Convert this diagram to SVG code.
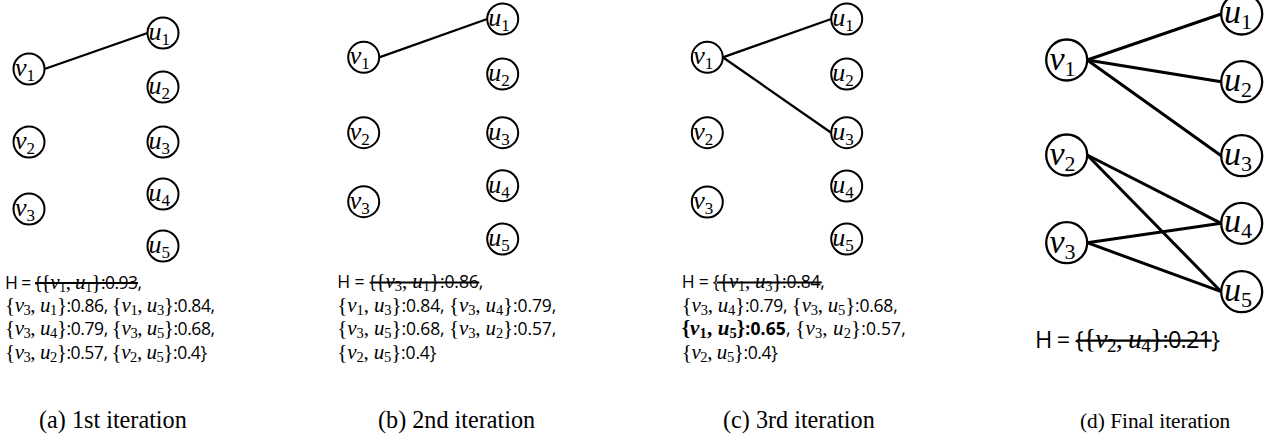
<svg xmlns="http://www.w3.org/2000/svg" width="1271" height="440" viewBox="0 0 1271 440">
<style>
.n{fill:#fff;stroke:#000;stroke-width:2}
.nd{fill:#fff;stroke:#000;stroke-width:2.3}
.e{stroke:#000;stroke-width:2.3;fill:none}
.ed{stroke:#000;stroke-width:3;fill:none}
.lb{font-family:"Liberation Serif",serif;font-style:italic;font-size:26px;fill:#000}
.lbd{font-family:"Liberation Serif",serif;font-style:italic;font-size:34px;fill:#000}
.sb{font-style:normal;font-size:17px}
.sbd{font-style:normal;font-size:22px}
.h{font-family:"Open Sans",sans-serif;font-size:17.5px;fill:#000}
.hd{font-family:"Open Sans",sans-serif;font-size:23.5px;fill:#000}
.m{font-family:"Liberation Serif",serif;font-size:21px}
.md{font-family:"Liberation Serif",serif;font-size:28px}
.i{font-style:italic}
.s{font-size:14.5px}
.sd{font-size:19px}
.b{font-weight:bold}
.st{stroke:#000;stroke-width:1.8}
.cap{font-family:"Liberation Serif",serif;font-size:24.2px;fill:#000}
</style>

<g id="connectors">
<line class="e" x1="44.5" y1="69" x2="147.5" y2="33"/>
<line class="e" x1="379.2" y1="57.3" x2="487.2" y2="19"/>
<line class="e" x1="722.8" y1="57.3" x2="831.2" y2="19"/>
<line class="e" x1="722.8" y1="57.3" x2="831.2" y2="132.7"/>
<line class="ed" x1="1087.2" y1="60" x2="1221.2" y2="14"/>
<line class="ed" x1="1087.2" y1="60" x2="1221.2" y2="81.7"/>
<line class="ed" x1="1087.2" y1="60" x2="1221.2" y2="155.7"/>
<line class="ed" x1="1087.2" y1="155" x2="1221.2" y2="223.3"/>
<line class="ed" x1="1087.2" y1="155" x2="1221.2" y2="291.7"/>
<line class="ed" x1="1087.2" y1="242.7" x2="1221.2" y2="223.3"/>
<line class="ed" x1="1087.2" y1="242.7" x2="1221.2" y2="291.7"/>
</g>

<!-- Panel a -->
<g id="a-v1"><circle class="n" cx="29" cy="69" r="15.5"/><text class="lb" x="15" y="76">v<tspan class="sb" dy="5">1</tspan></text></g>
<g id="a-v2"><circle class="n" cx="29" cy="142" r="15.5"/><text class="lb" x="15" y="149">v<tspan class="sb" dy="5">2</tspan></text></g>
<g id="a-v3"><circle class="n" cx="29" cy="209" r="15.5"/><text class="lb" x="15" y="216">v<tspan class="sb" dy="5">3</tspan></text></g>
<g id="a-u1"><circle class="n" cx="163" cy="33" r="15.5"/><text class="lb" x="148.5" y="40">u<tspan class="sb" dy="5">1</tspan></text></g>
<g id="a-u2"><circle class="n" cx="163" cy="87" r="15.5"/><text class="lb" x="148.5" y="94">u<tspan class="sb" dy="5">2</tspan></text></g>
<g id="a-u3"><circle class="n" cx="163" cy="142" r="15.5"/><text class="lb" x="148.5" y="149">u<tspan class="sb" dy="5">3</tspan></text></g>
<g id="a-u4"><circle class="n" cx="163" cy="194" r="15.5"/><text class="lb" x="148.5" y="201">u<tspan class="sb" dy="5">4</tspan></text></g>
<g id="a-u5"><circle class="n" cx="163" cy="246" r="15.5"/><text class="lb" x="148.5" y="253">u<tspan class="sb" dy="5">5</tspan></text></g>

<!-- Panel b -->
<g id="b-v1"><circle class="n" cx="363.7" cy="57.3" r="15.5"/><text class="lb" x="349.7" y="64.3">v<tspan class="sb" dy="5">1</tspan></text></g>
<g id="b-v2"><circle class="n" cx="363.7" cy="132.7" r="15.5"/><text class="lb" x="349.7" y="139.7">v<tspan class="sb" dy="5">2</tspan></text></g>
<g id="b-v3"><circle class="n" cx="363.7" cy="201.7" r="15.5"/><text class="lb" x="349.7" y="208.7">v<tspan class="sb" dy="5">3</tspan></text></g>
<g id="b-u1"><circle class="n" cx="502.7" cy="19" r="15.5"/><text class="lb" x="488.2" y="26">u<tspan class="sb" dy="5">1</tspan></text></g>
<g id="b-u2"><circle class="n" cx="502.7" cy="74" r="15.5"/><text class="lb" x="488.2" y="81">u<tspan class="sb" dy="5">2</tspan></text></g>
<g id="b-u3"><circle class="n" cx="502.7" cy="132.7" r="15.5"/><text class="lb" x="488.2" y="139.7">u<tspan class="sb" dy="5">3</tspan></text></g>
<g id="b-u4"><circle class="n" cx="502.7" cy="185.7" r="15.5"/><text class="lb" x="488.2" y="192.7">u<tspan class="sb" dy="5">4</tspan></text></g>
<g id="b-u5"><circle class="n" cx="502.7" cy="239" r="15.5"/><text class="lb" x="488.2" y="246">u<tspan class="sb" dy="5">5</tspan></text></g>

<!-- Panel c -->
<g id="c-v1"><circle class="n" cx="707.3" cy="57.3" r="15.5"/><text class="lb" x="693.3" y="64.3">v<tspan class="sb" dy="5">1</tspan></text></g>
<g id="c-v2"><circle class="n" cx="707.3" cy="132.7" r="15.5"/><text class="lb" x="693.3" y="139.7">v<tspan class="sb" dy="5">2</tspan></text></g>
<g id="c-v3"><circle class="n" cx="707.3" cy="202" r="15.5"/><text class="lb" x="693.3" y="209">v<tspan class="sb" dy="5">3</tspan></text></g>
<g id="c-u1"><circle class="n" cx="846.7" cy="19" r="15.5"/><text class="lb" x="832.2" y="26">u<tspan class="sb" dy="5">1</tspan></text></g>
<g id="c-u2"><circle class="n" cx="846.7" cy="74" r="15.5"/><text class="lb" x="832.2" y="81">u<tspan class="sb" dy="5">2</tspan></text></g>
<g id="c-u3"><circle class="n" cx="846.7" cy="132.7" r="15.5"/><text class="lb" x="832.2" y="139.7">u<tspan class="sb" dy="5">3</tspan></text></g>
<g id="c-u4"><circle class="n" cx="846.7" cy="186" r="15.5"/><text class="lb" x="832.2" y="193">u<tspan class="sb" dy="5">4</tspan></text></g>
<g id="c-u5"><circle class="n" cx="846.7" cy="239" r="15.5"/><text class="lb" x="832.2" y="246">u<tspan class="sb" dy="5">5</tspan></text></g>

<!-- Panel d -->
<g id="d-v1"><circle class="nd" cx="1066.7" cy="60" r="20.5"/><text class="lbd" x="1049.5" y="70">v<tspan class="sbd" dy="6">1</tspan></text></g>
<g id="d-v2"><circle class="nd" cx="1066.7" cy="155" r="20.5"/><text class="lbd" x="1049.5" y="165">v<tspan class="sbd" dy="6">2</tspan></text></g>
<g id="d-v3"><circle class="nd" cx="1066.7" cy="242.7" r="20.5"/><text class="lbd" x="1049.5" y="252.7">v<tspan class="sbd" dy="6">3</tspan></text></g>
<g id="d-u1"><circle class="nd" cx="1241.7" cy="14" r="20.5"/><text class="lbd" x="1224" y="23">u<tspan class="sbd" dy="6">1</tspan></text></g>
<g id="d-u2"><circle class="nd" cx="1241.7" cy="81.7" r="20.5"/><text class="lbd" x="1224" y="90.7">u<tspan class="sbd" dy="6">2</tspan></text></g>
<g id="d-u3"><circle class="nd" cx="1241.7" cy="155.7" r="20.5"/><text class="lbd" x="1224" y="164.7">u<tspan class="sbd" dy="6">3</tspan></text></g>
<g id="d-u4"><circle class="nd" cx="1241.7" cy="223.3" r="20.5"/><text class="lbd" x="1224" y="232.3">u<tspan class="sbd" dy="6">4</tspan></text></g>
<g id="d-u5"><circle class="nd" cx="1241.7" cy="291.7" r="20.5"/><text class="lbd" x="1224" y="300.7">u<tspan class="sbd" dy="6">5</tspan></text></g>

<!-- Heap texts -->
<g id="heap-a">
<text class="h" x="5" y="288.5" textLength="137" lengthAdjust="spacing">H = {<tspan class="m">{<tspan class="i">v</tspan><tspan class="s" dy="3">1</tspan><tspan dy="-3">, </tspan><tspan class="i">u</tspan><tspan class="s" dy="3">1</tspan><tspan dy="-3">}</tspan></tspan>:0.93,</text>
<line class="st" x1="35" y1="283" x2="138" y2="283"/>
<text class="h" x="5" y="312" textLength="210" lengthAdjust="spacing"><tspan class="m">{<tspan class="i">v</tspan><tspan class="s" dy="3">3</tspan><tspan dy="-3">, </tspan><tspan class="i">u</tspan><tspan class="s" dy="3">1</tspan><tspan dy="-3">}</tspan></tspan>:0.86, <tspan class="m">{<tspan class="i">v</tspan><tspan class="s" dy="3">1</tspan><tspan dy="-3">, </tspan><tspan class="i">u</tspan><tspan class="s" dy="3">3</tspan><tspan dy="-3">}</tspan></tspan>:0.84,</text>
<text class="h" x="5" y="335.3" textLength="210" lengthAdjust="spacing"><tspan class="m">{<tspan class="i">v</tspan><tspan class="s" dy="3">3</tspan><tspan dy="-3">, </tspan><tspan class="i">u</tspan><tspan class="s" dy="3">4</tspan><tspan dy="-3">}</tspan></tspan>:0.79, <tspan class="m">{<tspan class="i">v</tspan><tspan class="s" dy="3">3</tspan><tspan dy="-3">, </tspan><tspan class="i">u</tspan><tspan class="s" dy="3">5</tspan><tspan dy="-3">}</tspan></tspan>:0.68,</text>
<text class="h" x="5" y="358.7" textLength="202" lengthAdjust="spacing"><tspan class="m">{<tspan class="i">v</tspan><tspan class="s" dy="3">3</tspan><tspan dy="-3">, </tspan><tspan class="i">u</tspan><tspan class="s" dy="3">2</tspan><tspan dy="-3">}</tspan></tspan>:0.57, <tspan class="m">{<tspan class="i">v</tspan><tspan class="s" dy="3">2</tspan><tspan dy="-3">, </tspan><tspan class="i">u</tspan><tspan class="s" dy="3">5</tspan><tspan dy="-3">}</tspan></tspan>:0.4}</text>
</g>

<g id="heap-b">
<text class="h" x="337.3" y="288" textLength="146" lengthAdjust="spacing">H = {<tspan class="m">{<tspan class="i">v</tspan><tspan class="s" dy="3">3</tspan><tspan dy="-3">, </tspan><tspan class="i">u</tspan><tspan class="s" dy="3">1</tspan><tspan dy="-3">}</tspan></tspan>:0.86,</text>
<line class="st" x1="371.7" y1="282.5" x2="479.3" y2="282.5"/>
<text class="h" x="337.3" y="311.5" textLength="219" lengthAdjust="spacing"><tspan class="m">{<tspan class="i">v</tspan><tspan class="s" dy="3">1</tspan><tspan dy="-3">, </tspan><tspan class="i">u</tspan><tspan class="s" dy="3">3</tspan><tspan dy="-3">}</tspan></tspan>:0.84, <tspan class="m">{<tspan class="i">v</tspan><tspan class="s" dy="3">3</tspan><tspan dy="-3">, </tspan><tspan class="i">u</tspan><tspan class="s" dy="3">4</tspan><tspan dy="-3">}</tspan></tspan>:0.79,</text>
<text class="h" x="337.3" y="335" textLength="219" lengthAdjust="spacing"><tspan class="m">{<tspan class="i">v</tspan><tspan class="s" dy="3">3</tspan><tspan dy="-3">, </tspan><tspan class="i">u</tspan><tspan class="s" dy="3">5</tspan><tspan dy="-3">}</tspan></tspan>:0.68, <tspan class="m">{<tspan class="i">v</tspan><tspan class="s" dy="3">3</tspan><tspan dy="-3">, </tspan><tspan class="i">u</tspan><tspan class="s" dy="3">2</tspan><tspan dy="-3">}</tspan></tspan>:0.57,</text>
<text class="h" x="337.3" y="358.5" textLength="99" lengthAdjust="spacing"><tspan class="m">{<tspan class="i">v</tspan><tspan class="s" dy="3">2</tspan><tspan dy="-3">, </tspan><tspan class="i">u</tspan><tspan class="s" dy="3">5</tspan><tspan dy="-3">}</tspan></tspan>:0.4}</text>
</g>

<g id="heap-c">
<text class="h" x="681.7" y="288" textLength="143" lengthAdjust="spacing">H = {<tspan class="m">{<tspan class="i">v</tspan><tspan class="s" dy="3">1</tspan><tspan dy="-3">, </tspan><tspan class="i">u</tspan><tspan class="s" dy="3">3</tspan><tspan dy="-3">}</tspan></tspan>:0.84,</text>
<line class="st" x1="716.7" y1="282.5" x2="821.7" y2="282.5"/>
<text class="h" x="681.7" y="311.5" textLength="216" lengthAdjust="spacing"><tspan class="m">{<tspan class="i">v</tspan><tspan class="s" dy="3">3</tspan><tspan dy="-3">, </tspan><tspan class="i">u</tspan><tspan class="s" dy="3">4</tspan><tspan dy="-3">}</tspan></tspan>:0.79, <tspan class="m">{<tspan class="i">v</tspan><tspan class="s" dy="3">3</tspan><tspan dy="-3">, </tspan><tspan class="i">u</tspan><tspan class="s" dy="3">5</tspan><tspan dy="-3">}</tspan></tspan>:0.68,</text>
<text class="h" x="681.7" y="335" textLength="224" lengthAdjust="spacing"><tspan class="b"><tspan class="m">{<tspan class="i">v</tspan><tspan class="s" dy="3">1</tspan><tspan dy="-3">, </tspan><tspan class="i">u</tspan><tspan class="s" dy="3">5</tspan><tspan dy="-3">}</tspan></tspan>:0.65</tspan>, <tspan class="m">{<tspan class="i">v</tspan><tspan class="s" dy="3">3</tspan><tspan dy="-3">, </tspan><tspan class="i">u</tspan><tspan class="s" dy="3">2</tspan><tspan dy="-3">}</tspan></tspan>:0.57,</text>
<text class="h" x="681.7" y="358.5" textLength="96" lengthAdjust="spacing"><tspan class="m">{<tspan class="i">v</tspan><tspan class="s" dy="3">2</tspan><tspan dy="-3">, </tspan><tspan class="i">u</tspan><tspan class="s" dy="3">5</tspan><tspan dy="-3">}</tspan></tspan>:0.4}</text>
</g>

<g id="heap-d">
<text class="hd" x="1035" y="348" textLength="185" lengthAdjust="spacing">H = {<tspan class="md">{<tspan class="i">v</tspan><tspan class="sd" dy="4">2</tspan><tspan dy="-4">, </tspan><tspan class="i">u</tspan><tspan class="sd" dy="4">4</tspan><tspan dy="-4">}</tspan></tspan>:0.21}</text>
<line class="st" style="stroke-width:2.3" x1="1076.7" y1="340.7" x2="1211.7" y2="340.7"/>
</g>

<g id="captions">
<text class="cap" x="39" y="428">(a) 1st iteration</text>
<text class="cap" x="378" y="428">(b) 2nd iteration</text>
<text class="cap" x="723" y="428">(c) 3rd iteration</text>
<text class="cap" x="1080" y="428" style="font-size:21.3px">(d) Final iteration</text>
</g>
</svg>
